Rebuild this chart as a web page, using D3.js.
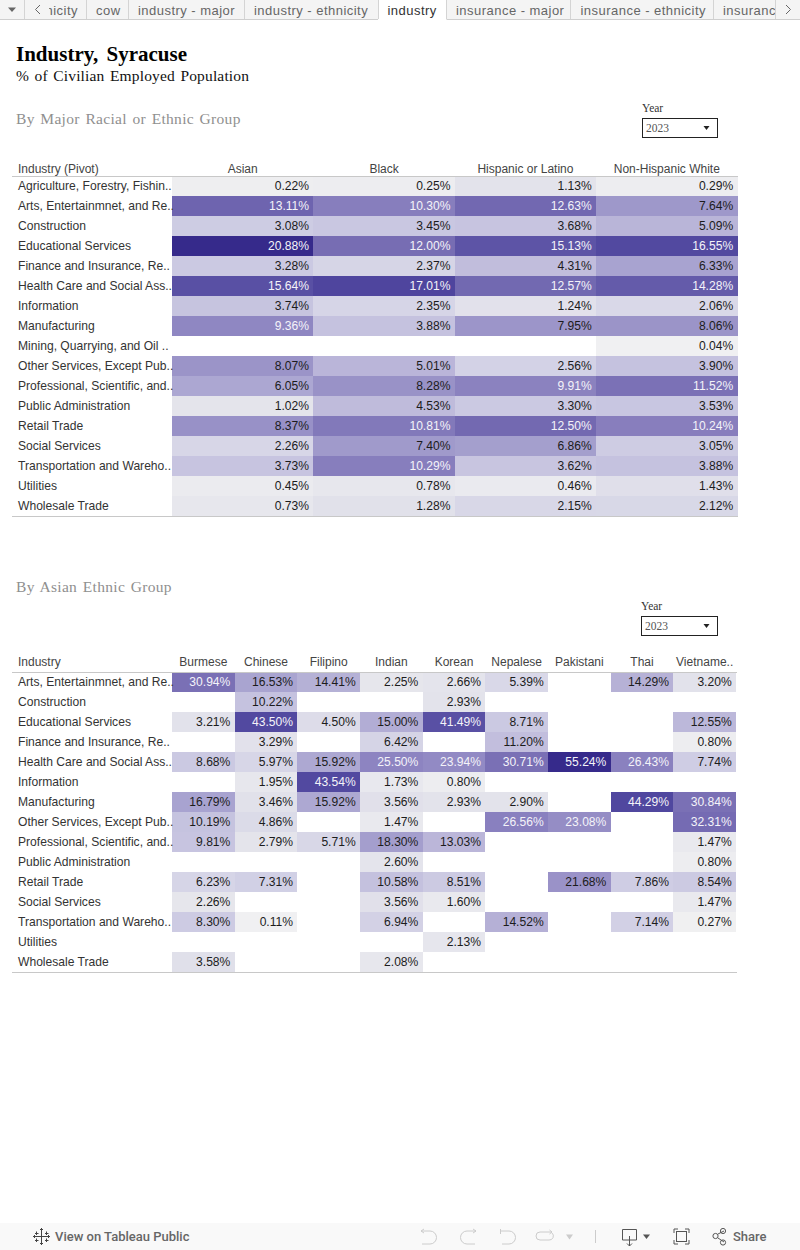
<!DOCTYPE html>
<html><head><meta charset="utf-8">
<script src="https://cdn.jsdelivr.net/npm/d3@7"></script>
<style>
html,body{margin:0;padding:0;background:#fff;overflow:hidden}
svg{display:block}
text{font-family:"Liberation Sans",Arial,sans-serif}
.serif{font-family:"Liberation Serif","Times New Roman",serif}
</style></head><body><div id="chart"></div>
<script>
// ---- data ----
const majorIndustries = ["Agriculture, Forestry, Fishin..","Arts, Entertainmnet, and Re..","Construction","Educational Services","Finance and Insurance, Re..","Health Care and Social Ass..","Information","Manufacturing","Mining, Quarrying, and Oil ..","Other Services, Except Pub..","Professional, Scientific, and..","Public Administration","Retail Trade","Social Services","Transportation and Wareho..","Utilities","Wholesale Trade"];
const majorGroups = ["Asian","Black","Hispanic or Latino","Non-Hispanic White"];
const asianValues    = [0.22,13.11,3.08,20.88,3.28,15.64,3.74,9.36,null,8.07,6.05,1.02,8.37,2.26,3.73,0.45,0.73];
const blackValues    = [0.25,10.30,3.45,12.00,2.37,17.01,2.35,3.88,null,5.01,8.28,4.53,10.81,7.40,10.29,0.78,1.28];
const hispanicValues = [1.13,12.63,3.68,15.13,4.31,12.57,1.24,7.95,null,2.56,9.91,3.30,12.50,6.86,3.62,0.46,2.15];
const whiteValues    = [0.29,7.64,5.09,16.55,6.33,14.28,2.06,8.06,0.04,3.90,11.52,3.53,10.24,3.05,3.88,1.43,2.12];

const ethnicIndustries = ["Arts, Entertainmnet, and Re..","Construction","Educational Services","Finance and Insurance, Re..","Health Care and Social Ass..","Information","Manufacturing","Other Services, Except Pub..","Professional, Scientific, and..","Public Administration","Retail Trade","Social Services","Transportation and Wareho..","Utilities","Wholesale Trade"];
const ethnicGroups = ["Burmese","Chinese","Filipino","Indian","Korean","Nepalese","Pakistani","Thai","Vietname.."];
const burmeseValues   = [30.94,null,3.21,null,8.68,null,16.79,10.19,9.81,null,6.23,2.26,8.30,null,3.58];
const chineseValues   = [16.53,10.22,43.50,3.29,5.97,1.95,3.46,4.86,2.79,null,7.31,null,0.11,null,null];
const filipinoValues  = [14.41,null,4.50,null,15.92,43.54,15.92,null,5.71,null,null,null,null,null,null];
const indianValues    = [2.25,null,15.00,6.42,25.50,1.73,3.56,1.47,18.30,2.60,10.58,3.56,6.94,null,2.08];
const koreanValues    = [2.66,2.93,41.49,null,23.94,0.80,2.93,null,13.03,null,8.51,1.60,null,2.13,null];
const nepaleseValues  = [5.39,null,8.71,11.20,30.71,null,2.90,26.56,null,null,null,null,14.52,null,null];
const pakistaniValues = [null,null,null,null,55.24,null,null,23.08,null,null,21.68,null,null,null,null];
const thaiValues      = [14.29,null,null,null,26.43,null,44.29,null,null,null,7.86,null,7.14,null,null];
const vietnameseValues= [3.20,null,12.55,0.80,7.74,null,30.84,32.31,1.47,0.80,8.54,1.47,0.27,null,null];

const tabNames = ["ethnicity","cow","industry - major","industry - ethnicity","industry","insurance - major","insurance - ethnicity","insurance"];

// ---- colour ramp ----
const rampStops = [0,.027,.053,.108,.157,.263,.30,.39,.478,.558,.79,1];
const rampColors = ["#f1f1f2","#e9e9ee","#e3e3eb","#d7d6e7","#cbc9e2","#b5b0d6","#a9a4d0","#9a93c8","#8a81bf","#7a70b5","#5249a0","#362a8b"];

const W=800,H=1250;
const svg=d3.select("#chart").append("svg").attr("width",W).attr("height",H).attr("viewBox",`0 0 ${W} ${H}`);
const fmt=v=>d3.format(".2f")(v)+"%";

function heatTable({rows,cols,series,x0,x1,y0,y1,headerY,rowHeader,lineX1}){
  const g=svg.append("g");
  const x=d3.scaleBand().domain(cols).range([x0,x1]);
  const y=d3.scaleBand().domain(rows).range([y0,y1]);
  const max=d3.max(series.flat());
  const t=d3.scaleLinear().domain([0,max]).range([0,1]);
  const color=d3.scaleLinear().domain(rampStops).range(rampColors).interpolate(d3.interpolateRgb);
  const cells=[];
  series.forEach((s,ci)=>s.forEach((v,ri)=>{if(v!==null)cells.push({c:cols[ci],r:rows[ri],v});}));
  g.selectAll("rect.cell").data(cells).join("rect").attr("class","cell")
    .attr("x",d=>x(d.c)).attr("y",d=>y(d.r)).attr("width",x.bandwidth()).attr("height",y.bandwidth())
    .attr("fill",d=>color(t(d.v))).attr("shape-rendering","crispEdges");
  g.selectAll("text.val").data(cells).join("text").attr("class","val")
    .attr("x",d=>x(d.c)+x.bandwidth()-4.3).attr("y",d=>y(d.r)+y.bandwidth()/2+4.2)
    .attr("text-anchor","end").attr("font-size",12.1)
    .attr("fill",d=>t(d.v)>0.41?"#f4f3f9":"#1c1c1c").text(d=>fmt(d.v));
  g.selectAll("text.row").data(rows).join("text").attr("class","row")
    .attr("x",18).attr("y",d=>y(d)+y.bandwidth()/2+4.2).attr("font-size",12.1).attr("fill","#333").text(d=>d);
  g.selectAll("text.col").data(cols).join("text").attr("class","col")
    .attr("x",d=>x(d)+x.bandwidth()/2).attr("y",headerY).attr("text-anchor","middle")
    .attr("font-size",12).attr("fill","#444").text(d=>d);
  g.append("text").attr("x",18).attr("y",headerY).attr("font-size",12).attr("fill","#444").text(rowHeader);
  [y0+0.5,y1+0.5].forEach(v=>g.append("line").attr("x1",12).attr("x2",lineX1).attr("y1",v).attr("y2",v)
    .attr("stroke","#c8c8c8").attr("stroke-width",1));
}

// ---- headings ----
svg.append("text").attr("class","serif").attr("x",16).attr("y",61).attr("font-size",21).attr("font-weight","bold").attr("fill","#000").attr("word-spacing",3).text("Industry, Syracuse");
svg.append("text").attr("class","serif").attr("x",16).attr("y",81).attr("font-size",15.5).attr("fill","#111").attr("letter-spacing",0.15).attr("word-spacing",1.5).text("% of Civilian Employed Population");
svg.append("text").attr("class","serif").attr("x",16).attr("y",124).attr("font-size",15.5).attr("fill","#8f8f8f").attr("letter-spacing",0.3).attr("word-spacing",1.5).text("By Major Racial or Ethnic Group");
svg.append("text").attr("class","serif").attr("x",16).attr("y",592).attr("font-size",15.5).attr("fill","#8f8f8f").attr("letter-spacing",0.3).attr("word-spacing",1.5).text("By Asian Ethnic Group");

function yearFilter(x,y,w){
  svg.append("text").attr("class","serif").attr("x",x).attr("y",y-6).attr("font-size",11.5).attr("fill","#333").text("Year");
  svg.append("rect").attr("x",x+.5).attr("y",y+.5).attr("width",w).attr("height",19).attr("fill","#fff").attr("stroke","#222");
  svg.append("text").attr("class","serif").attr("x",x+4).attr("y",y+14).attr("font-size",11.5).attr("fill","#555").text("2023");
  svg.append("path").attr("d",`M${717-13.500} ${y+8}h6l-3 4z`).attr("fill","#222");
}
yearFilter(642,118,75);
yearFilter(641,616,76);

heatTable({rows:majorIndustries,cols:majorGroups,series:[asianValues,blackValues,hispanicValues,whiteValues],
  x0:172,x1:737.5,y0:176,y1:516,headerY:173,rowHeader:"Industry (Pivot)",lineX1:738});
heatTable({rows:ethnicIndustries,cols:ethnicGroups,series:[burmeseValues,chineseValues,filipinoValues,indianValues,koreanValues,nepaleseValues,pakistaniValues,thaiValues,vietnameseValues],
  x0:172,x1:736,y0:672,y1:972,headerY:666,rowHeader:"Industry",lineX1:737});

// ---- tab strip ----
const tabs=svg.append("g");
tabs.append("rect").attr("width",W).attr("height",19).attr("fill","#f4f4f4");
tabs.append("rect").attr("x",378.5).attr("width",68).attr("height",20).attr("fill","#fff");
tabs.append("path").attr("d",`M0 19.5H378M446.5 19.5H800`).attr("stroke","#cfcfcf").attr("fill","none");
[24.5,128.5,244.5,378.5,446.5,570.5,713.5,86.5,775.5].forEach(v=>tabs.append("line").attr("x1",v).attr("x2",v).attr("y1",0).attr("y2",19).attr("stroke","#d4d4d4"));
tabs.append("clipPath").attr("id","tc1").append("rect").attr("x",49).attr("y",0).attr("width",37).attr("height",20);
tabs.append("clipPath").attr("id","tc2").append("rect").attr("x",714).attr("y",0).attr("width",61).attr("height",20);
const tabX=[78,96,138,254,387.5,456,580.5,723];
tabNames.forEach((n,i)=>{
  const t=tabs.append("text").attr("x",tabX[i]).attr("y",14.5).attr("font-size",13).attr("letter-spacing",0.47)
    .attr("text-anchor",i===0?"end":"start").attr("fill",i===4?"#333":"#666").text(n);
  if(i===0)t.attr("clip-path","url(#tc1)");
  if(i===7)t.attr("clip-path","url(#tc2)");
});
tabs.append("path").attr("d","M8 7.5h8l-4 4.5z").attr("fill","#666");
tabs.append("path").attr("d","M40 5l-4.5 4.5 4.5 4.5M786 5l4.5 4.5-4.5 4.5").attr("fill","none").attr("stroke","#666").attr("stroke-width",1);

// ---- toolbar ----
const bar=svg.append("g");
bar.append("rect").attr("y",1223).attr("width",W).attr("height",27).attr("fill","#f9f9f9");
bar.append("path").attr("d","M41.500 1229v14.500M36 1236.500h11M36.500 1231.500v3.500M35 1233.500h3.500M46.500 1231.500v3.500M45 1233.500h3.500M36.500 1238.500v3.500M35 1240.500h3.500M46.500 1238.500v3.500M45 1240.500h3.500M41.500 1228v3M40 1229.500h3M41.500 1242v3M40 1243.500h3M34.500 1235v3M33 1236.500h3M48.500 1235v3M47 1236.500h3").attr("fill","none").attr("stroke","#444").attr("stroke-width",1);
bar.append("text").attr("x",55).attr("y",1241).attr("font-size",13).attr("font-weight","500").attr("style","font-family:Roboto,sans-serif").attr("fill","#666").text("View on Tableau Public");
bar.append("path").attr("d","M421 1231h9a6.500 6.500 0 0 1 0 13h-8M421 1231l3-2M421 1231l3 2").attr("fill","none").attr("stroke","#ccc");
bar.append("path").attr("d","M476 1231h-9a6.500 6.500 0 0 0 0 13h8M476 1231l-3-2M476 1231l-3 2").attr("fill","none").attr("stroke","#ccc");
bar.append("path").attr("d","M500.5 1229v5M501 1231h8a6.500 6.500 0 0 1 0 13h-7").attr("fill","none").attr("stroke","#ccc");
bar.append("path").attr("d","M552 1232h-12a4 4 0 0 0 0 8h9a4 4 0 0 0 3-7M552 1232l-2.500-2M552 1232l-2.500 2").attr("fill","none").attr("stroke","#ccc");
bar.append("path").attr("d","M566 1234.500h7l-3.500 5z").attr("fill","#ccc");
bar.append("line").attr("x1",595.5).attr("x2",595.5).attr("y1",1230).attr("y2",1243).attr("stroke","#ccc");
bar.append("path").attr("d","M629 1240h-6.500v-10.500h14v10.500h-6.500M629.500 1236v10M627 1243.500l2.500 2.500 2.500-2.500").attr("fill","none").attr("stroke","#555");
bar.append("path").attr("d","M643 1234.500h7l-3.500 4.500z").attr("fill","#555");
bar.append("path").attr("d","M674 1233v-4h4M685 1229h4v4M689 1240v4h-4M678 1244h-4v-4").attr("fill","none").attr("stroke","#555");
bar.append("rect").attr("x",676.5).attr("y",1231.5).attr("width",10).attr("height",10).attr("fill","none").attr("stroke","#555");
bar.append("path").attr("d","M718 1234l6-3M718 1238l6 4").attr("stroke","#555");
[[715.5,1236],[723,1231],[723,1242.500]].forEach(p=>bar.append("circle").attr("cx",p[0]).attr("cy",p[1]).attr("r",2.6).attr("fill","none").attr("stroke","#555"));
bar.append("text").attr("x",733).attr("y",1241).attr("font-size",13).attr("font-weight","500").attr("style","font-family:Roboto,sans-serif").attr("fill","#666").text("Share");
</script></body></html>
